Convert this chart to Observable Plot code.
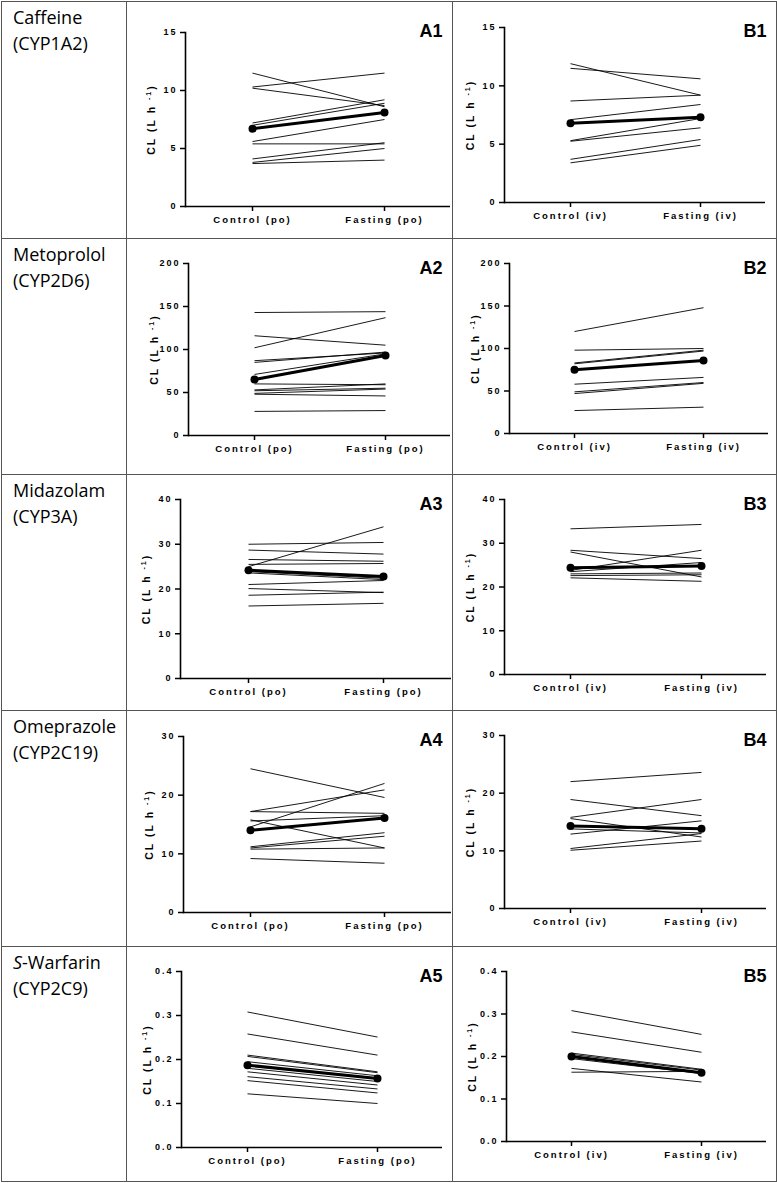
<!DOCTYPE html>
<html><head><meta charset="utf-8">
<script src="https://cdn.jsdelivr.net/npm/d3@7"></script>
<script src="https://cdn.jsdelivr.net/npm/@observablehq/plot@0.6"></script>
<style>
body{margin:0;background:#fff;}
#wrap{position:relative;width:777px;height:1183px;overflow:hidden;}
.cell{position:absolute;box-sizing:border-box;border:1px solid #555;}
.drug{position:absolute;font-family:"Open Sans",sans-serif;font-size:18px;line-height:26px;color:#000;white-space:nowrap;}
.panel{position:absolute;}
.panel g[aria-label="x-axis tick label"] text,
.panel g[aria-label="y-axis tick label"] text,
.panel g[aria-label="y-axis label"] text{letter-spacing:2px;}
.panel g[aria-label="y-axis label"] text{font-size:10.5px;}
</style>
</head><body><div id="wrap"></div>
<script>
// ---- data ----
const drugNames = ["Caffeine", "Metoprolol", "Midazolam", "Omeprazole", "S-Warfarin"];
const enzymes = ["(CYP1A2)", "(CYP2D6)", "(CYP3A)", "(CYP2C19)", "(CYP2C9)"];
const xPo = ["Control (po)", "Fasting (po)"];
const xIv = ["Control (iv)", "Fasting (iv)"];
const yAxisLabel = "CL (L h-1)";

const ticks15 = [0, 5, 10, 15];
const ticks200 = [0, 50, 100, 150, 200];
const ticks40 = [0, 10, 20, 30, 40];
const ticks30 = [0, 10, 20, 30];
const ticks04 = [0, 0.1, 0.2, 0.3, 0.4];

const a1Control = [11.5, 10.3, 10.2, 7.2, 7.0, 5.6, 5.4, 4.1, 3.8, 3.7];
const a1Fasting = [8.6, 11.5, 8.7, 9.2, 8.9, 7.5, 5.4, 5.5, 5.0, 4.0];
const a1Mean = [6.7, 8.1];
const b1Control = [11.9, 11.5, 8.7, 7.1, 5.3, 5.25, 3.7, 3.4];
const b1Fasting = [9.2, 10.6, 9.2, 8.4, 7.2, 6.4, 5.4, 4.9];
const b1Mean = [6.8, 7.3];

const a2Control = [143, 116, 102, 87, 85, 71, 60, 53, 52, 49, 48, 28];
const a2Fasting = [144, 105, 137, 96, 97, 95, 59, 60, 55, 54, 46, 29];
const a2Mean = [65, 93];
const b2Control = [120, 98, 83, 82, 58, 49, 47, 27];
const b2Fasting = [148, 100, 98, 97, 66, 60, 59, 31];
const b2Mean = [75, 86];

const a3Control = [30.0, 28.7, 26.6, 25.5, 25.0, 23.9, 23.6, 21.0, 20.1, 18.6, 16.2];
const a3Fasting = [30.4, 27.8, 26.2, 25.7, 33.9, 22.4, 22.1, 21.9, 19.2, 19.3, 16.8];
const a3Mean = [24.2, 22.8];
const b3Control = [33.3, 28.4, 28.0, 23.8, 23.5, 23.0, 22.6, 22.1];
const b3Fasting = [34.3, 26.5, 22.3, 28.4, 25.6, 23.2, 22.8, 21.3];
const b3Mean = [24.4, 24.8];

const a4Control = [24.5, 17.2, 17.2, 15.8, 15.6, 14.6, 11.2, 11.0, 10.8, 9.2];
const a4Fasting = [19.6, 20.9, 16.9, 11.0, 16.5, 22.0, 13.6, 13.0, 11.0, 8.4];
const a4Mean = [14.0, 16.1];
const b4Control = [22.0, 18.9, 15.8, 15.6, 13.8, 12.9, 10.4, 10.1];
const b4Fasting = [23.6, 16.1, 18.9, 12.4, 13.1, 15.2, 13.0, 11.7];
const b4Mean = [14.3, 13.85];

const a5Control = [0.308, 0.258, 0.210, 0.207, 0.195, 0.180, 0.172, 0.161, 0.152, 0.122];
const a5Fasting = [0.251, 0.210, 0.172, 0.170, 0.163, 0.150, 0.142, 0.133, 0.124, 0.100];
const a5Mean = [0.187, 0.157];
const b5Control = [0.308, 0.258, 0.208, 0.205, 0.195, 0.172, 0.163];
const b5Fasting = [0.252, 0.210, 0.170, 0.168, 0.160, 0.140, 0.165];
const b5Mean = [0.200, 0.162];

// ---- layout ----
const colX = [1, 126, 452, 776];
const rowY = [1, 238, 474, 710, 946, 1181];

const panels = [
  {id:"A1", col:1, row:0, c:a1Control, f:a1Fasting, mean:a1Mean, yMax:15, ticks:ticks15, xl:xPo, m:[59,31,32,2]},
  {id:"B1", col:2, row:0, c:b1Control, f:b1Fasting, mean:b1Mean, yMax:15, ticks:ticks15, xl:xIv, m:[52,26,36,11]},
  {id:"A2", col:1, row:1, c:a2Control, f:a2Fasting, mean:a2Mean, yMax:200, ticks:ticks200, xl:xPo, m:[62,25,39,2]},
  {id:"B2", col:2, row:1, c:b2Control, f:b2Fasting, mean:b2Mean, yMax:200, ticks:ticks200, xl:xIv, m:[57,25,41,8]},
  {id:"A3", col:1, row:2, c:a3Control, f:a3Fasting, mean:a3Mean, yMax:40, ticks:ticks40, xl:xPo, m:[54,25,32,1]},
  {id:"B3", col:2, row:2, c:b3Control, f:b3Fasting, mean:b3Mean, yMax:40, ticks:ticks40, xl:xIv, m:[52,25,36,10]},
  {id:"A4", col:1, row:3, c:a4Control, f:a4Fasting, mean:a4Mean, yMax:30, ticks:ticks30, xl:xPo, m:[57,26,34,1]},
  {id:"B4", col:2, row:3, c:b4Control, f:b4Fasting, mean:b4Mean, yMax:30, ticks:ticks30, xl:xIv, m:[52,25,38,10]},
  {id:"A5", col:1, row:4, c:a5Control, f:a5Fasting, mean:a5Mean, yMax:0.4, ticks:ticks04, xl:xPo, m:[55,25,34,10], fmt:".1f"},
  {id:"B5", col:2, row:4, c:b5Control, f:b5Fasting, mean:b5Mean, yMax:0.4, ticks:ticks04, xl:xIv, m:[54,25,40,10], fmt:".1f"}
];

const wrap = document.getElementById("wrap");

// table cells
for (let r = 0; r < 5; r++) {
  for (let c = 0; c < 3; c++) {
    const d = document.createElement("div");
    d.className = "cell";
    d.style.left = colX[c] + "px";
    d.style.top = rowY[r] + "px";
    d.style.width = (colX[c+1] - colX[c] + 1) + "px";
    d.style.height = (rowY[r+1] - rowY[r] + 1) + "px";
    wrap.appendChild(d);
  }
  const t = document.createElement("div");
  t.className = "drug";
  t.style.left = "13px";
  t.style.top = (rowY[r] + 3) + "px";
  const name = drugNames[r];
  if (name.startsWith("S-")) {
    const i = document.createElement("i");
    i.textContent = "S";
    t.appendChild(i);
    t.appendChild(document.createTextNode(name.slice(1)));
  } else {
    t.appendChild(document.createTextNode(name));
  }
  t.appendChild(document.createElement("br"));
  t.appendChild(document.createTextNode(enzymes[r]));
  wrap.appendChild(t);
}

// panels
for (const p of panels) {
  const w = colX[p.col+1] - colX[p.col];
  const h = rowY[p.row+1] - rowY[p.row];
  const [mL, mT, mB, mR] = p.m;
  const ind = p.c.map((v, i) => ({c: v, f: p.f[i]}));
  const meanLink = [{c: p.mean[0], f: p.mean[1]}];
  const meanPts = [{x: p.xl[0], y: p.mean[0]}, {x: p.xl[1], y: p.mean[1]}];
  const chart = Plot.plot({
    width: w, height: h,
    marginLeft: mL, marginTop: mT, marginBottom: mB, marginRight: mR,
    style: {background: "transparent", fontFamily: "'Liberation Sans', Arial, sans-serif", fontSize: "9px", fontWeight: "bold", overflow: "visible", color: "#000"},
    x: {type: "point", domain: p.xl, padding: 0.5},
    y: {domain: [0, p.yMax]},
    marks: [
      Plot.axisY({ticks: p.ticks, tickSize: 5, tickPadding: 3, strokeWidth: 1.5, tickFormat: p.fmt ? d3.format(p.fmt) : d3.format("d"),
        label: yAxisLabel, labelArrow: "none", labelAnchor: "center", labelOffset: 38, fontSize: 9}),
      Plot.axisX({tickSize: 5, tickPadding: 5, strokeWidth: 1.5, label: null, fontSize: 9.5}),
      Plot.frame({anchor: "left", strokeWidth: 1.6}),
      Plot.ruleY([0], {strokeWidth: 1.6}),
      Plot.link(ind, {x1: () => p.xl[0], x2: () => p.xl[1], y1: "c", y2: "f", stroke: "#000", strokeWidth: 0.9}),
      Plot.link(meanLink, {x1: () => p.xl[0], x2: () => p.xl[1], y1: "c", y2: "f", stroke: "#000", strokeWidth: 3}),
      Plot.dot(meanPts, {x: "x", y: "y", r: 4, fill: "#000", stroke: "none"}),
      Plot.text([p.id], {frameAnchor: "top-right", dx: mR - 10, dy: 35 - mT, fontSize: 18, fontWeight: "bold", lineAnchor: "bottom", textAnchor: "end", fill: "#000"})
    ]
  });
  chart.classList.add("panel");
  chart.style.left = colX[p.col] + "px";
  chart.style.top = rowY[p.row] + "px";
  chart.style.position = "absolute";
  wrap.appendChild(chart);
  // superscript in y label
  const lbl = chart.querySelector('g[aria-label="y-axis label"] text');
  if (lbl) {
    const txt = lbl.textContent;
    const m = txt.match(/^(.*h)\s?-1(\)).*$/);
    if (m) {
      lbl.textContent = m[1] + " ";
      const ns = "http://www.w3.org/2000/svg";
      const s = document.createElementNS(ns, "tspan");
      s.setAttribute("dy", "-4");
      s.setAttribute("font-size", "7");
      s.textContent = "-1";
      lbl.appendChild(s);
      const e = document.createElementNS(ns, "tspan");
      e.setAttribute("dy", "4");
      e.textContent = m[2];
      lbl.appendChild(e);
    }
  }
}
</script>
</body></html>
